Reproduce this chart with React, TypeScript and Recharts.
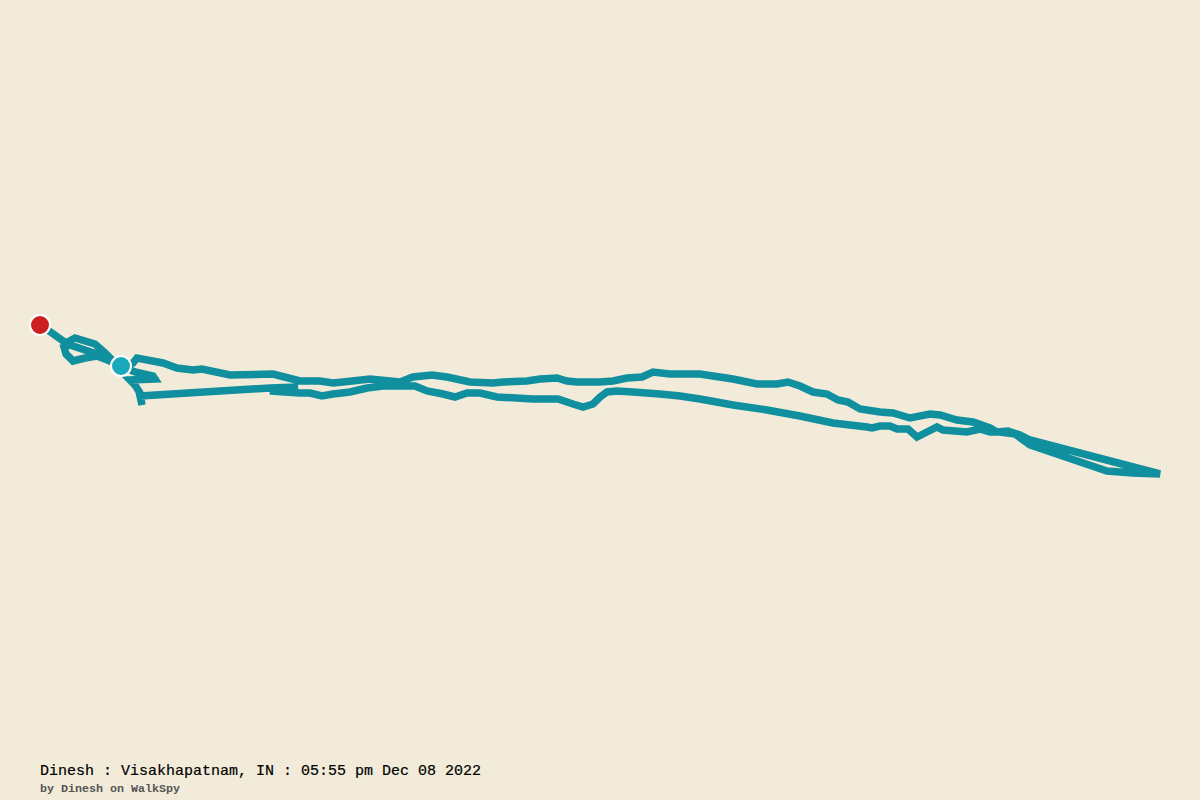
import { LineChart, Line, XAxis, YAxis } from "recharts"

// Track, in picture units
const routeX = [
  40, 52, 66, 75, 95, 104, 112, 100, 85, 70, 64, 66, 73, 85, 97, 110, 121, 133, 137,
  163, 177, 193, 202, 230, 273, 300, 320, 333, 343, 370, 400, 413, 432, 447, 470, 493, 503, 527, 540, 557, 567, 577,
  600, 613, 627, 642, 653, 670, 700, 713, 733, 757, 777, 788, 800, 813, 827, 838, 848, 860, 880, 893, 910, 930,
  940, 957, 973, 990, 997, 1008, 1020, 1030, 1160, 1133, 1107, 1030, 1015, 1000, 990, 980, 967, 943, 937, 923, 917, 908, 897, 890,
  880, 872, 867, 833, 800, 767, 733, 700, 680, 660, 633, 617, 607, 600, 593, 583, 573, 558, 533, 497, 480, 467, 455,
  443, 427, 415, 383, 367, 350, 333, 322, 310, 300, 270, 298, 270, 140, 142, 140, 135, 130, 155, 153, 135, 121,
]
const routeY = [
  325, 333, 343, 338, 344, 352, 360, 355, 350, 345, 347, 354, 361, 358, 356, 361, 366, 363, 358,
  363, 368, 370, 369, 375, 374, 381, 381, 383, 382, 379, 382, 377, 375, 377, 382, 383, 382, 381, 379, 378, 381, 382,
  382, 381, 378, 377, 372, 374, 374, 376, 379, 384, 384, 382, 386, 392, 394, 400, 402, 409, 412, 413, 418, 414,
  415, 420, 422, 428, 432, 431, 435, 440, 474, 473, 471, 445, 434, 432, 432, 429, 432, 430, 427, 434, 437, 429, 429, 426,
  426, 428, 427, 423, 416, 410, 405, 399, 396, 394, 392, 391, 392, 397, 404, 407, 404, 399, 399, 397, 393, 393, 397,
  394, 391, 386, 386, 388, 392, 394, 396, 393, 393, 391, 387, 388, 396, 405, 393, 385, 380, 379, 376, 372, 366,
]
const startPoint = [{ x: 40, y: 325 }]
const endPoint = [{ x: 121, y: 366 }]

const title = "Dinesh : Visakhapatnam, IN : 05:55 pm Dec 08 2022"
const credit = "by Dinesh on WalkSpy"

const BG = "#f3ebd9"
const TRACK = "#108f9f"

const track = routeX.map((x, i) => ({ x, y: routeY[i] }))

export default function App() {
  return (
    <div style={{ position: "absolute", left: 0, top: 0, width: 1200, height: 800, background: BG, overflow: "hidden" }}>
      <LineChart width={1200} height={800} margin={{ top: 0, right: 0, bottom: 0, left: 0 }}>
        <XAxis type="number" dataKey="x" domain={[0, 1200]} hide allowDuplicatedCategory={false} />
        <YAxis type="number" dataKey="y" domain={[0, 800]} reversed hide />
        <Line
          data={track}
          dataKey="y"
          type="linear"
          stroke={TRACK}
          strokeWidth={7.5}
          strokeLinejoin="miter"
          dot={false}
          activeDot={false}
          isAnimationActive={false}
        />
        <Line
          data={startPoint}
          dataKey="y"
          stroke="none"
          dot={{ r: 10, fill: "#cc1f1f", stroke: "#ffffff", strokeWidth: 2 }}
          activeDot={false}
          isAnimationActive={false}
        />
        <Line
          data={endPoint}
          dataKey="y"
          stroke="none"
          dot={{ r: 10, fill: "#18a9bd", stroke: "#ffffff", strokeWidth: 2 }}
          activeDot={false}
          isAnimationActive={false}
        />
      </LineChart>
      <div style={{ position: "absolute", left: 40, top: 763, fontFamily: "'Liberation Mono', monospace", fontSize: 15, lineHeight: "17px", color: "#000000", whiteSpace: "pre", WebkitTextStroke: "0.2px #000000" }}>
        {title}
      </div>
      <div style={{ position: "absolute", left: 40, top: 782, fontFamily: "'Liberation Mono', monospace", fontSize: 11.67, lineHeight: "14px", fontWeight: 700, color: "#555555", whiteSpace: "pre" }}>
        {credit}
      </div>
    </div>
  )
}
